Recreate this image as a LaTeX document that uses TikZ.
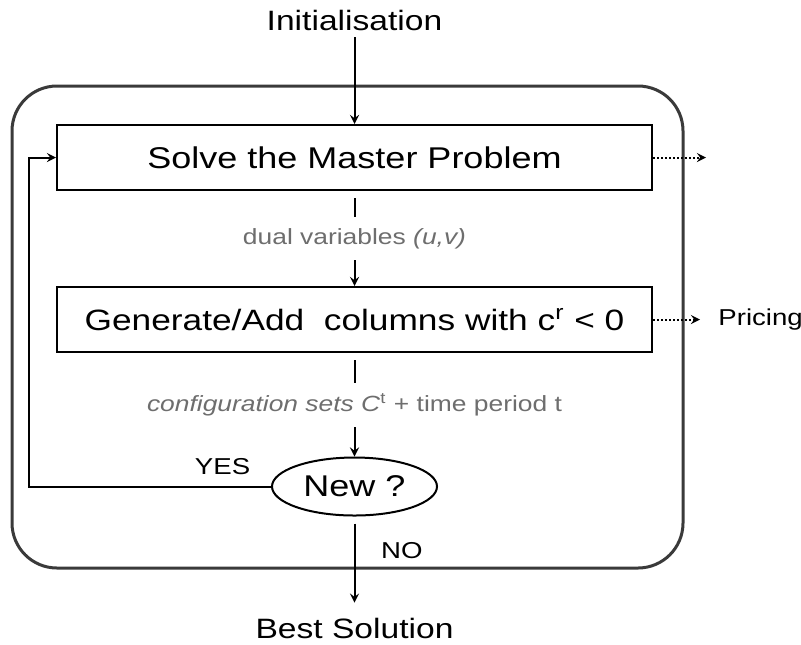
\documentclass[tikz,border=0pt]{standalone}
\usepackage{fontspec}
\setmainfont[FakeStretch=1.2]{Liberation Sans}
\usepackage{xcolor}
\usepackage{tikz}
\usetikzlibrary{positioning,shapes.geometric,arrows}
\definecolor{notegray}{HTML}{6E6E6E}
\definecolor{framegray}{HTML}{3A3A3A}
\tikzset{
    stage/.style={
        rectangle,
        draw=black,
        line width=1pt,
        text centered,
        minimum width=297.5pt,
        minimum height=32.5pt,
        font=\fontsize{15}{18}\selectfont
    },
    arrow/.style={
        ->,
        >=stealth,
        line width=1pt
    },
    note/.style={
        fill=white,
        text=notegray,
        inner xsep=3pt,
        inner ysep=5.5pt,
        font=\fontsize{11}{13}\selectfont
    }
}
\tikzstyle{decision} = [ellipse, draw=black, line width=1pt, minimum width=82.5pt, minimum height=29pt, inner sep=0pt, font=\fontsize{15}{18}\selectfont]
\tikzstyle{title} = [font=\fontsize{14}{17}\selectfont]
\tikzstyle{tag} = [font=\fontsize{11.5}{14}\selectfont]
\tikzstyle{dotarrow} = [dash pattern=on 1pt off 1pt, line width=1pt, ->, >=stealth]

\begin{document}
\begin{tikzpicture}[x=0.5pt, y=-0.5pt, node distance=81pt]
    \useasboundingbox (0,0) rectangle (801,644);
    \draw [framegray, line width=1.5pt, rounded corners=22.5pt] (12,86) rectangle (683,568);
    \node (master) [stage] at (354.5,157.5) {Solve the Master Problem};
    \node (init) [title, above of=master, yshift=-12.25pt] {Initialisation};
    \node (generate) [stage, below of=master, font=\fontsize{14.7}{18}\selectfont] {Generate/Add\ \ columns with c\textsuperscript{r} < 0};
    \node (new) [decision, below of=generate, yshift=-2.5pt] {New ?};
    \node (best) [title, below of=new, yshift=10.25pt] {Best Solution};
    \node (pricing) [tag, right=30.5pt of generate, inner sep=2pt] {Pricing};
    \coordinate (mpout) at ([xshift=26.5pt]master.east);
    \draw [arrow] (init) -- (master);
    \draw [arrow, shorten <=3.5pt] (master) -- node (dual) [note] {dual variables \textit{(u,v)}} (generate);
    \draw [arrow, shorten <=3.5pt] (generate) -- node (config) [note] {\textit{configuration sets C}\textsuperscript{t} + time period t} (new);
    \draw [arrow, shorten <=3.5pt, shorten >=4pt] (new) -- node (no) [tag, pos=0.36, right=9.5pt] {NO} (best);
    \draw [arrow] (new.west) -| node (yes) [tag, pos=0.1, above=2pt] {YES} ([xshift=-13.5pt]master.west) -- (master.west);
    \draw [dotarrow] (master) -- (mpout);
    \draw [dotarrow, shorten >=7pt] (generate) -- (pricing);
\end{tikzpicture}
\end{document}
